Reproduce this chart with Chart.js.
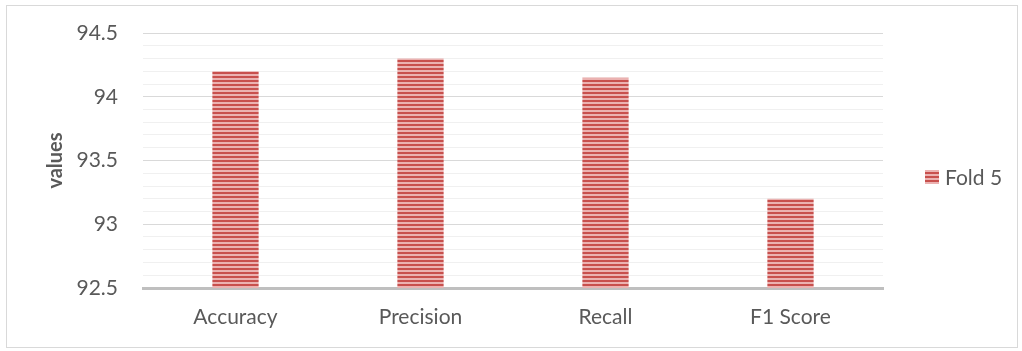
<!DOCTYPE html>
<html>
<head>
<meta charset="utf-8">
<script src="https://cdn.jsdelivr.net/npm/chart.js@4/dist/chart.umd.min.js"></script>
<style>
  html, body { margin: 0; padding: 0; background: #ffffff; }
  #wrap { position: relative; width: 1022px; height: 351px; }
</style>
</head>
<body>
<div id="wrap"><canvas id="chart" width="1022" height="351"></canvas></div>
<script>
// Metrics for the fifth fold
const categories = ['Accuracy', 'Precision', 'Recall', 'F1 Score'];
const fold5Values = [94.2, 94.3, 94.15, 93.2];
const seriesLabel = 'Fold 5';
const yMin = 92.5;
const yMax = 94.5;
const yStep = 0.1;
const majorStep = 0.5;

const FONT = 'Lato, "Liberation Sans", sans-serif';
const TEXT = '#595959';

// Horizontal-stripe fill for the bars
function stripePattern() {
  const c = document.createElement('canvas');
  c.width = 8; c.height = 4;
  const g = c.getContext('2d');
  g.fillStyle = '#ebb2b1';
  g.fillRect(0, 0, 8, 4);
  g.fillStyle = '#c8504d';
  g.fillRect(0, 0, 8, 2);
  return g.createPattern(c, 'repeat');
}
const fill = stripePattern();

function isMajor(v) {
  const r = v / majorStep;
  return Math.abs(r - Math.round(r)) < 1e-6;
}

// Outer frame around the whole chart
const framePlugin = {
  id: 'frame',
  beforeDraw(chart) {
    const ctx = chart.ctx;
    ctx.save();
    ctx.fillStyle = '#ffffff';
    ctx.fillRect(0, 0, chart.width, chart.height);
    ctx.strokeStyle = '#d9d9d9';
    ctx.lineWidth = 1;
    ctx.strokeRect(6.5, 5.5, 1011, 342);
    ctx.restore();
  }
};

// Single-entry legend on the right
const sideLegend = {
  id: 'sideLegend',
  afterDraw(chart) {
    const ctx = chart.ctx;
    const ds = chart.data.datasets[0];
    const x = chart.chartArea.right + 42;
    const y = 177;
    ctx.save();
    ctx.fillStyle = ds.backgroundColor;
    ctx.fillRect(x, y - 7, 14, 14);
    ctx.fillStyle = TEXT;
    ctx.font = '21px ' + FONT;
    ctx.textBaseline = 'middle';
    ctx.textAlign = 'left';
    ctx.fillText(ds.label, x + 20, y + 1);
    ctx.restore();
  }
};

new Chart(document.getElementById('chart'), {
  type: 'bar',
  data: {
    labels: categories,
    datasets: [{
      label: seriesLabel,
      data: fold5Values,
      backgroundColor: fill,
      borderWidth: 0,
      categoryPercentage: 1,
      barPercentage: 0.25
    }]
  },
  options: {
    responsive: false,
    animation: false,
    events: [],
    layout: { padding: { top: 33, right: 139, bottom: 0, left: 0 } },
    plugins: {
      legend: { display: false },
      tooltip: { enabled: false }
    },
    scales: {
      x: {
        grid: { display: false, drawTicks: false },
        border: { display: true, color: '#bfbfbf', width: 3 },
        ticks: {
          color: TEXT,
          font: { family: FONT, size: 21 },
          padding: 17,
          maxRotation: 0
        },
        afterFit(scale) { scale.height = 63; }
      },
      y: {
        min: yMin,
        max: yMax,
        border: { display: false },
        grid: {
          drawTicks: false,
          color: ctx => isMajor(ctx.tick.value) ? '#d9d9d9' : '#f0f0f0',
          lineWidth: 1
        },
        ticks: {
          stepSize: yStep,
          autoSkip: false,
          color: TEXT,
          font: { family: FONT, size: 21 },
          padding: 25,
          callback: v => isMajor(v) ? String(Number(v.toFixed(1))) : ''
        },
        title: {
          display: true,
          text: 'values',
          color: TEXT,
          font: { family: FONT, size: 20, weight: 'bold' },
          padding: { top: 44, bottom: 0 }
        },
        afterFit(scale) {
          scale.width = 143;
          scale.paddingTop = 0;
          scale.paddingBottom = 0;
        }
      }
    }
  },
  plugins: [framePlugin, sideLegend]
});
</script>
</body>
</html>
